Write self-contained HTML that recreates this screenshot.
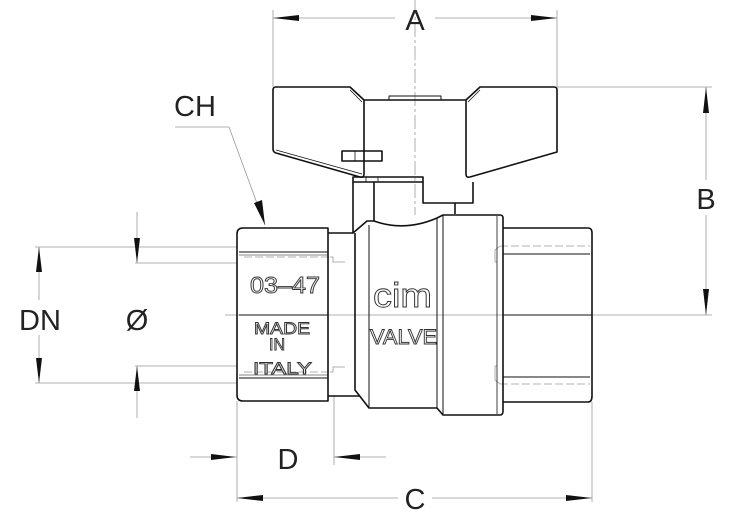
<!DOCTYPE html>
<html><head><meta charset="utf-8"><style>
html,body{margin:0;padding:0;background:#fff;}
svg{display:block;}
text{font-family:"Liberation Sans",sans-serif;fill:#222;}
</style></head><body>
<svg width="730" height="516" viewBox="0 0 730 516" xmlns="http://www.w3.org/2000/svg">
<g stroke="#999" stroke-width="0.8" fill="none">
 <line x1="415" y1="0" x2="415" y2="215" stroke-dasharray="14 3 3 3"/>
 <line x1="225" y1="315" x2="712" y2="315"/>
 <line x1="273" y1="10" x2="273" y2="87"/>
 <line x1="557" y1="10" x2="557" y2="87"/>
 <line x1="557" y1="87" x2="712" y2="87"/>
 <line x1="35" y1="247" x2="237" y2="247"/>
 <line x1="135" y1="263" x2="237" y2="263"/>
 <line x1="135" y1="366" x2="237" y2="366"/>
 <line x1="35" y1="383" x2="237" y2="383"/>
 <line x1="237" y1="401" x2="237" y2="502"/>
 <line x1="334" y1="395" x2="334" y2="465"/>
 <line x1="592" y1="402" x2="592" y2="502"/>
 <line x1="273" y1="18" x2="395" y2="18"/>
 <line x1="435" y1="18" x2="557" y2="18"/>
 <line x1="706" y1="87" x2="706" y2="180"/>
 <line x1="706" y1="215" x2="706" y2="315"/>
 <line x1="39" y1="247" x2="39" y2="300"/>
 <line x1="39" y1="335" x2="39" y2="383"/>
 <line x1="137" y1="212" x2="137" y2="263"/>
 <line x1="137" y1="366" x2="137" y2="418"/>
 <line x1="190" y1="457" x2="237" y2="457"/>
 <line x1="334" y1="457" x2="386" y2="457"/>
 <line x1="237" y1="498" x2="398" y2="498"/>
 <line x1="432" y1="498" x2="592" y2="498"/>
 <line x1="175" y1="127" x2="229" y2="127"/>
 <line x1="229" y1="127" x2="265" y2="225"/>
 <g stroke-dasharray="8 3">
  <line x1="244" y1="257" x2="330" y2="257"/>
  <line x1="244" y1="372" x2="330" y2="372"/>
  <line x1="500" y1="246" x2="590" y2="246"/>
  <line x1="500" y1="384" x2="590" y2="384"/>
 </g>
 <polyline points="330,257 333,257 333,262 345,262"/>
 <polyline points="330,372 333,372 333,367 345,367"/>
 <polyline points="497,262 495,262 495,250 500,246"/>
 <polyline points="497,366 495,366 495,380 500,384"/>
</g>
<g fill="#111">
 <polygon points="273,18 299,15 299,21"/>
 <polygon points="557,18 531,15 531,21"/>
 <polygon points="706,315 703,289 709,289"/>
 <polygon points="706,87 703,113 709,113"/>
 <polygon points="39,247 36,272 42,272"/>
 <polygon points="39,383 36,358 42,358"/>
 <polygon points="137,263 134,238 140,238"/>
 <polygon points="137,366 134,391 140,391"/>
 <polygon points="236,457 211,454 211,460"/>
 <polygon points="334,457 360,454 360,460"/>
 <polygon points="237,498 263,495 263,501"/>
 <polygon points="592,498 566,495 566,501"/>
 <polygon points="265,225 254,203 262,200"/>
</g>
<g stroke="#111" stroke-width="1.6" fill="none" stroke-linejoin="round">
 <path d="M276,87 L350,87 L364,100 L466,100 L480,87 L554,87 Q557,87 557,90 L557,152 L470,177 Q466,178 466,174 L466,100"/>
 <path d="M364,100 L364,174 Q364,178 360,177 L276,153 Q273,152 273,149 L273,90 Q273,87 276,87"/>
 <line x1="350" y1="90" x2="362" y2="102" stroke-width="0.8"/>
 <line x1="480" y1="90" x2="468" y2="102" stroke-width="0.8"/>
 <line x1="276" y1="150" x2="362" y2="174" stroke-width="0.8"/>
 <rect x="389" y="96" width="52" height="4" stroke-width="1"/>
 <rect x="342" y="151" width="40" height="10"/>
 <line x1="355" y1="151" x2="355" y2="161" stroke-width="0.8"/>
 <rect x="353" y="177" width="70" height="5"/>
 <line x1="366" y1="177" x2="366" y2="182" stroke-width="0.8"/>
 <line x1="378" y1="177" x2="378" y2="182" stroke-width="0.8"/>
 <path d="M353,182 L353,233 L367,221 L374,221 L374,182"/>
 <path d="M423,182 L423,203 L473,203 L473,182"/>
 <line x1="455" y1="203" x2="455" y2="214"/>
 <path d="M243,228 L328,228 L328,401 L243,401 Q237,401 237,395 L237,234 Q237,228 243,228 Z"/>
 <line x1="239" y1="252" x2="328" y2="252" stroke-width="1"/>
 <line x1="239" y1="255" x2="328" y2="255" stroke-width="0.6"/>
 <line x1="239" y1="315" x2="328" y2="315" stroke-width="1"/>
 <line x1="239" y1="375" x2="328" y2="375" stroke-width="0.6"/>
 <line x1="239" y1="378" x2="328" y2="378" stroke-width="1"/>
 <path d="M328,233 L353,233 M328,396 L360,396"/>
 <path d="M355,233 L355,390 L369,408 L437,408"/>
 <path d="M374,221 Q405,232 437,218"/>
 <line x1="369" y1="225" x2="369" y2="408" stroke-width="1"/>
 <line x1="437" y1="218" x2="437" y2="408" stroke-width="1"/>
 <path d="M437,218 L443,215 L500,215 Q503,215 503,218 L503,411 Q503,415 500,415 L443,415 L437,408"/>
 <line x1="443" y1="215" x2="443" y2="415" stroke-width="1"/>
 <line x1="497" y1="216" x2="497" y2="414" stroke-width="0.8"/>
 <path d="M503,228 L588,228 Q592,228 592,233 L592,396 Q592,402 588,402 L503,402"/>
 <line x1="503" y1="254" x2="590" y2="254" stroke-width="1"/>
 <line x1="503" y1="315" x2="592" y2="315" stroke-width="1"/>
 <line x1="503" y1="377" x2="590" y2="377" stroke-width="1"/>
</g>
<g stroke="#333" stroke-width="0.9">
 <text x="250" y="293" font-size="23" textLength="70" lengthAdjust="spacingAndGlyphs" style="fill:#fff">03–47</text>
 <text x="254" y="334" font-size="17" textLength="56" lengthAdjust="spacingAndGlyphs" style="fill:#fff">MADE</text>
 <text x="269" y="350" font-size="17" textLength="16" lengthAdjust="spacingAndGlyphs" style="fill:#fff">IN</text>
 <text x="253" y="374" font-size="17" textLength="59" lengthAdjust="spacingAndGlyphs" style="fill:#fff">ITALY</text>
 <text x="373" y="307" font-size="34" textLength="59" lengthAdjust="spacingAndGlyphs" style="fill:#fff">cim</text>
 <text x="370" y="344" font-size="21" textLength="67" lengthAdjust="spacingAndGlyphs" style="fill:#fff">VALVE</text>
</g>
<g font-size="29">
 <text x="415" y="30" text-anchor="middle">A</text>
 <text x="706" y="209" text-anchor="middle">B</text>
 <text x="195" y="116" text-anchor="middle">CH</text>
 <text x="40" y="330" text-anchor="middle">DN</text>
 <text x="137" y="330" text-anchor="middle">Ø</text>
 <text x="288" y="469" text-anchor="middle">D</text>
 <text x="415" y="509" text-anchor="middle">C</text>
</g>
</svg>
</body></html>
